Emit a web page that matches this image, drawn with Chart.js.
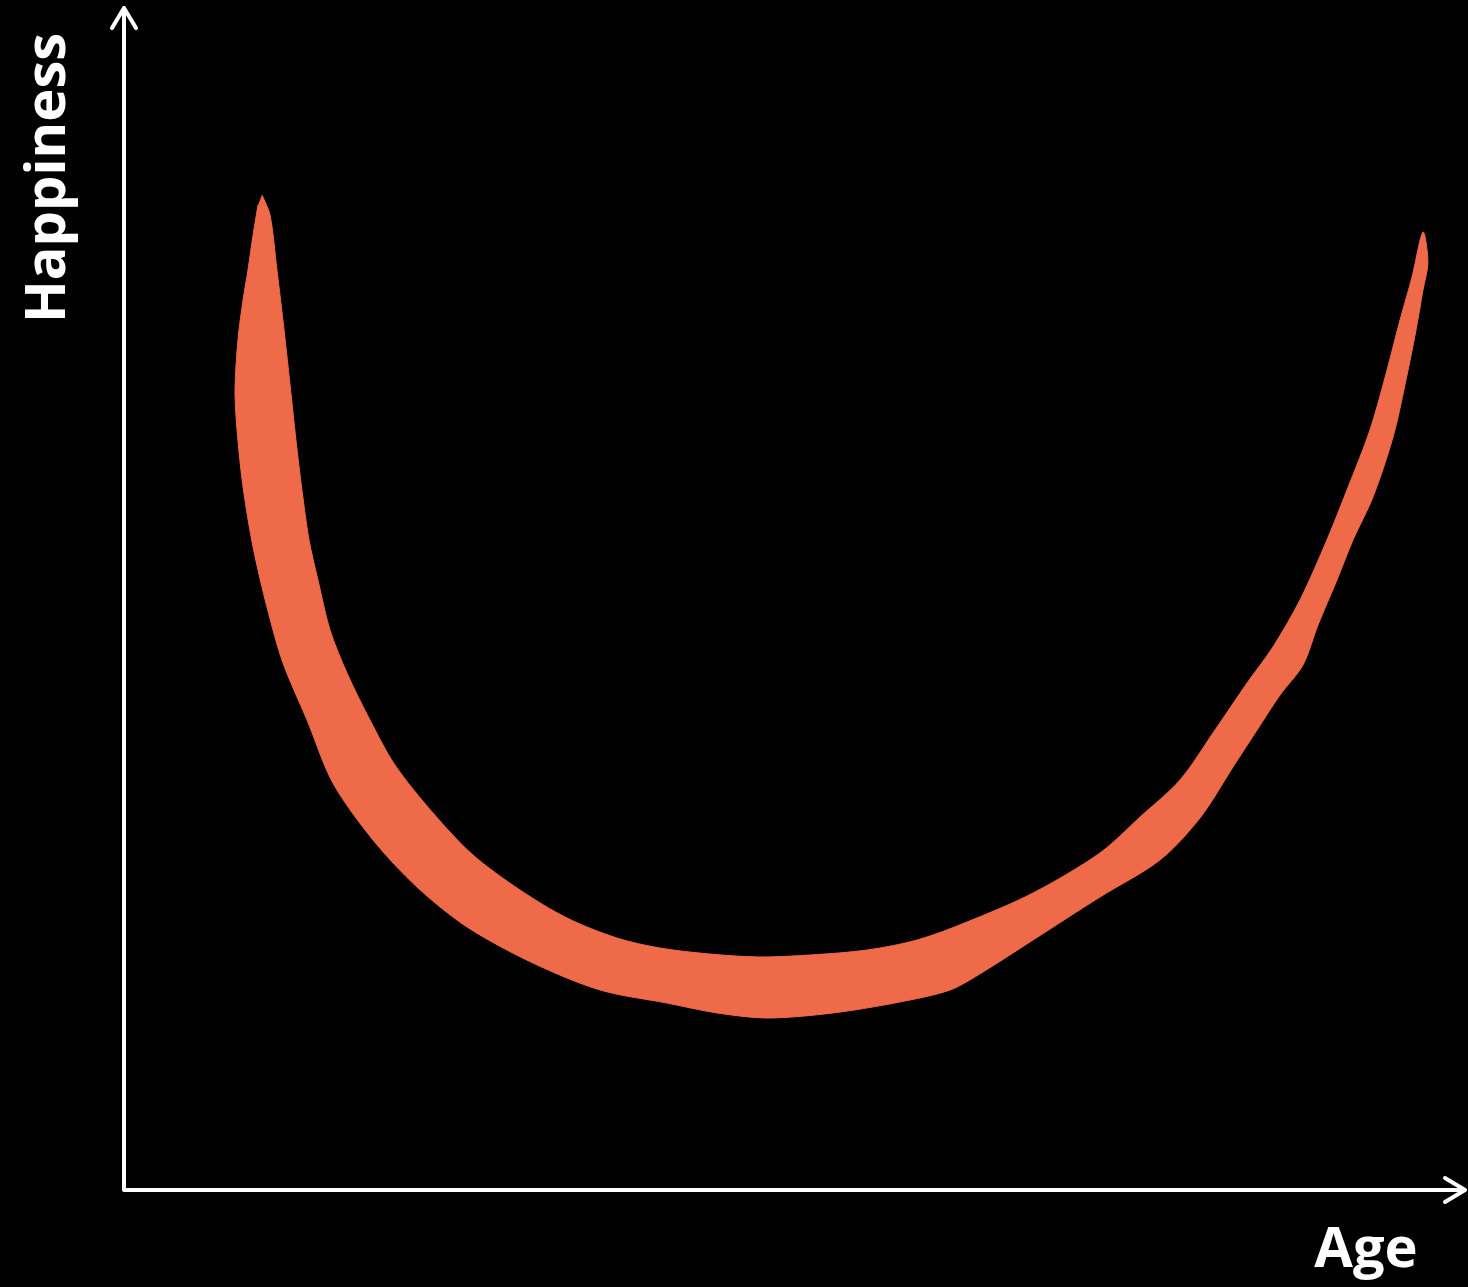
<!DOCTYPE html>
<html>
<head>
<meta charset="utf-8">
<script src="https://cdn.jsdelivr.net/npm/chart.js@4.4.1/dist/chart.umd.min.js"></script>
<style>
    html, body { margin: 0; padding: 0; background: #000; }
    #wrap { width: 1468px; height: 1287px; position: relative; }
</style>
</head>
<body>
<div id="wrap"><canvas id="happyChart"></canvas></div>
<script>
// inner edge of the brush stroke, from the left tip down and up to the right tip
const innerAge = [10.33, 10.93, 11.45, 11.98, 12.43, 12.87, 13.32, 13.85, 14.52, 15.42, 16.69, 18.41, 20.28, 23.13, 26.12, 29.64, 33.16, 36.90, 40.12, 43.86, 47.60, 51.35, 55.61, 59.36, 63.10, 68.04, 73.05, 76.05, 79.04, 81.51, 84.06, 86.00, 88.02, 90.04, 91.54, 93.26, 94.54, 95.51, 96.41, 97.23];
const innerHappiness = [84.47, 82.77, 78.10, 73.01, 68.34, 63.67, 59.42, 55.18, 51.78, 47.54, 43.89, 39.90, 36.08, 32.00, 28.44, 25.47, 23.09, 21.39, 20.54, 20.03, 19.78, 19.95, 20.37, 21.22, 22.75, 25.21, 28.61, 31.66, 34.80, 38.79, 43.04, 46.10, 50.08, 55.18, 59.42, 64.52, 69.61, 73.85, 77.50, 81.32];

// outer edge, from the right tip back round to the left tip
const outerAge = [97.60, 97.23, 96.71, 95.88, 94.99, 93.49, 91.99, 90.79, 89.37, 88.25, 86.53, 84.81, 83.01, 80.54, 77.54, 73.05, 68.04, 64.30, 61.83, 58.08, 53.07, 48.13, 44.39, 40.64, 35.63, 30.61, 25.67, 21.93, 18.64, 15.64, 13.70, 11.90, 10.70, 9.66, 8.91, 8.46, 8.31, 8.53, 8.91, 9.28, 9.66, 10.03];
const outerHappiness = [78.78, 76.40, 73.01, 68.34, 63.92, 58.83, 55.18, 51.78, 47.96, 44.57, 42.02, 39.05, 35.91, 31.58, 28.01, 24.87, 21.22, 18.51, 16.98, 15.96, 15.03, 14.60, 15.03, 15.87, 16.98, 19.27, 22.33, 25.72, 29.71, 34.55, 39.90, 44.74, 49.49, 54.58, 59.68, 64.52, 67.91, 72.16, 75.55, 78.10, 81.07, 83.62];

const xTitle = 'Age';
const yTitle = 'Happiness';

const strokeColor = '#ef6a48';

// outline of the stroke as one closed path
const outline = [];
innerAge.forEach((a, i) => outline.push({x: a, y: innerHappiness[i]}));
outerAge.forEach((a, i) => outline.push({x: a, y: outerHappiness[i]}));

// axes with open arrow heads + the two titles
const arrowAxes = {
    id: 'arrowAxes',
    afterDraw(chart) {
        const ctx = chart.ctx;
        const x0 = chart.scales.x.getPixelForValue(0);
        const y0 = chart.scales.y.getPixelForValue(0);
        const top = chart.chartArea.top - 4;
        const right = chart.chartArea.right + 5;

        ctx.save();
        ctx.strokeStyle = '#fff';
        ctx.lineWidth = 4;
        ctx.lineCap = 'round';
        ctx.lineJoin = 'round';

        ctx.beginPath();
        ctx.moveTo(x0, y0);
        ctx.lineTo(x0, top);
        ctx.moveTo(x0 - 12, top + 20);
        ctx.lineTo(x0, top);
        ctx.lineTo(x0 + 12, top + 20);

        ctx.moveTo(x0, y0);
        ctx.lineTo(right, y0);
        ctx.moveTo(right - 20, y0 - 12);
        ctx.lineTo(right, y0);
        ctx.lineTo(right - 20, y0 + 12);
        ctx.stroke();

        ctx.fillStyle = '#fff';
        ctx.font = 'bold 56px "Open Sans"';
        ctx.textAlign = 'center';
        ctx.textBaseline = 'alphabetic';
        ctx.fillText(xTitle, 1366, 1267);

        ctx.translate(65, 178);
        ctx.rotate(-Math.PI / 2);
        ctx.fillText(yTitle, 0, 0);
        ctx.restore();
    }
};

const config = {
    type: 'scatter',
    data: {
        datasets: [{
            data: outline,
            showLine: true,
            fill: 'shape',
            backgroundColor: strokeColor,
            borderColor: strokeColor,
            borderWidth: 1,
            tension: 0.3,
            pointRadius: 0,
        }]
    },
    options: {
        responsive: true,
        maintainAspectRatio: false,
        animation: false,
        layout: {
            padding: {left: 124, right: 8, top: 12, bottom: 97}
        },
        plugins: {
            legend: {display: false},
            tooltip: {enabled: false}
        },
        scales: {
            x: {type: 'linear', min: 0, max: 100, display: false},
            y: {type: 'linear', min: 0, max: 100, display: false}
        }
    },
    plugins: [arrowAxes]
};

const happyChart = new Chart(document.getElementById('happyChart'), config);
</script>
</body>
</html>
